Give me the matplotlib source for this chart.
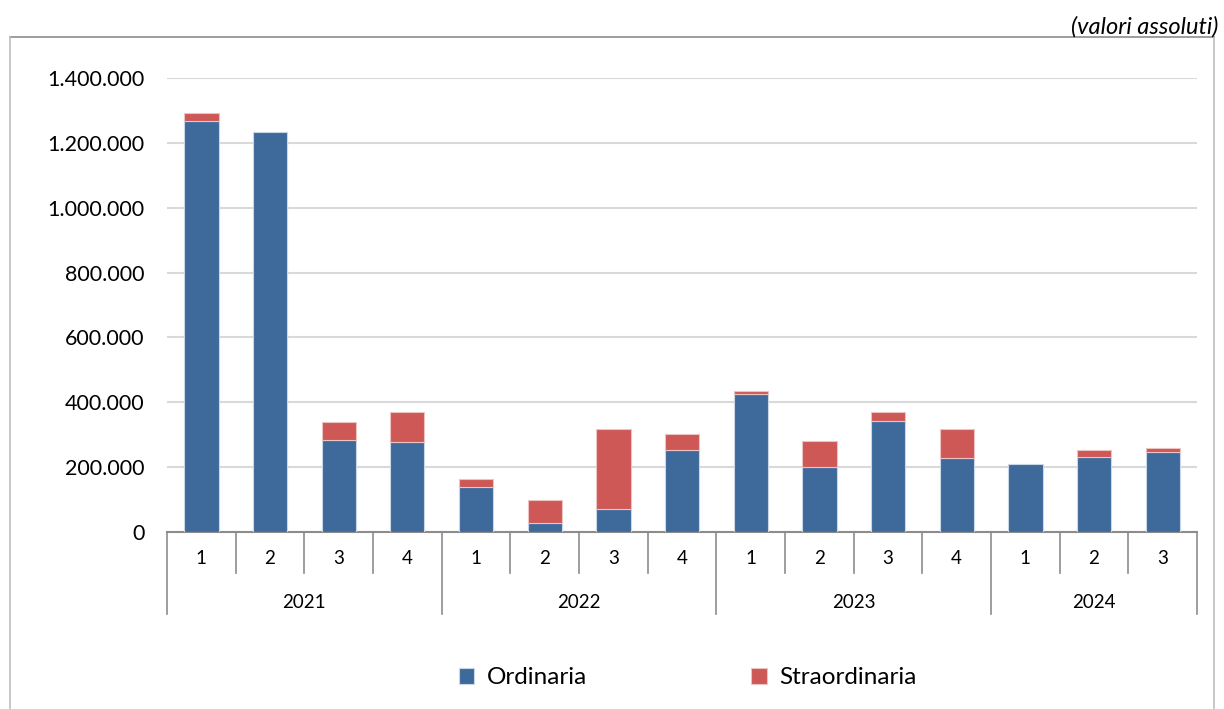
import matplotlib
matplotlib.use("Agg")
import matplotlib.pyplot as plt
from matplotlib.ticker import FuncFormatter
from matplotlib.lines import Line2D

years = ["2021", "2022", "2023", "2024"]
quarters_per_year = [4, 4, 4, 3]
quarter_labels = ["1", "2", "3", "4", "1", "2", "3", "4", "1", "2", "3", "4", "1", "2", "3"]
ordinaria = [1266000, 1232000, 283000, 278000, 139000, 27000, 72000, 254000,
             427000, 199000, 342000, 227000, 210000, 232000, 246000]
straordinaria = [25000, 0, 56000, 92000, 23000, 73000, 247000, 47000,
                 7000, 81000, 28000, 91000, 0, 22000, 12000]
yticks = [0, 200000, 400000, 600000, 800000, 1000000, 1200000, 1400000]

BLUE = "#3D6A9B"
RED = "#CD5856"
FONT = ["Lato", "DejaVu Sans"]
plt.rcParams["font.family"] = FONT

fig = plt.figure(figsize=(12.24, 7.09), dpi=100)
W, H = 1224, 709
ax = fig.add_axes([167 / W, 1 - 532 / H, (1197 - 167) / W, (532 - 78) / H])

x = list(range(len(ordinaria)))
ax.bar(x, ordinaria, width=0.5, color=BLUE, edgecolor="#C9D6E6",
       linewidth=[0.8 if v > 0 else 0 for v in ordinaria], zorder=3, label="Ordinaria")
ax.bar(x, straordinaria, width=0.5, bottom=ordinaria, color=RED, edgecolor="#EBC3C3",
       linewidth=[0.8 if v > 0 else 0 for v in straordinaria], zorder=3, label="Straordinaria")

ax.set_xlim(-0.5, len(x) - 0.5)
ax.set_ylim(0, 1400000)
ax.set_yticks(yticks)
ax.yaxis.set_major_formatter(FuncFormatter(lambda v, p: f"{int(v):,}".replace(",", ".")))
ax.tick_params(axis="y", length=0, pad=16, labelsize=15.5, labelcolor="#000000")
ax.set_xticks([])
for s in ["left", "right", "top"]:
    ax.spines[s].set_visible(False)
ax.spines["bottom"].set_color("#8C8C8C")
ax.spines["bottom"].set_linewidth(1.5)
ax.grid(axis="y", color="#D9D9D9", linewidth=1.5, zorder=0)
ax.set_axisbelow(True)

# hierarchical x axis
tr = ax.get_xaxis_transform()
axh = 532 - 78
yq_end = -(573 - 532) / axh
yy_end = -(614 - 532) / axh
yq_lab = -(559 - 532) / axh
yy_lab = -(602 - 532) / axh
for i, lab in enumerate(quarter_labels):
    ax.text(i, yq_lab, lab, transform=tr, ha="center", va="center", fontsize=13.5)
boundaries = [-0.5]
acc = -0.5
for n in quarters_per_year:
    acc += n
    boundaries.append(acc)
for i in range(len(x) + 1):
    b = i - 0.5
    yend = yy_end if b in boundaries else yq_end
    ax.add_line(Line2D([b, b], [0, yend], transform=tr, color="#8C8C8C", linewidth=1.2, clip_on=False))
for k, yr in enumerate(years):
    c = (boundaries[k] + boundaries[k + 1]) / 2
    ax.text(c, yy_lab, yr, transform=tr, ha="center", va="center", fontsize=13.5)

# legend
fig.legend(loc="center", bbox_to_anchor=(688 / W, 1 - 678 / H), ncol=2, frameon=False,
           fontsize=17.5, handlelength=0.62, handleheight=0.62, columnspacing=6.75, handletextpad=0.53)

# outer frame
fig.add_artist(Line2D([10 / W, 1214 / W], [1 - 37 / H, 1 - 37 / H], transform=fig.transFigure, color="#8C8C8C", linewidth=1.2))
fig.add_artist(Line2D([10 / W, 10 / W], [0, 1 - 37 / H], transform=fig.transFigure, color="#BFBFBF", linewidth=1.2))
fig.add_artist(Line2D([1214 / W, 1214 / W], [0, 1 - 37 / H], transform=fig.transFigure, color="#BFBFBF", linewidth=1.2))

fig.text(1218 / W, 1 - 27 / H, "(valori assoluti)", ha="right", va="center", fontsize=17, style="italic")

fig.savefig("out.png", dpi=100)
